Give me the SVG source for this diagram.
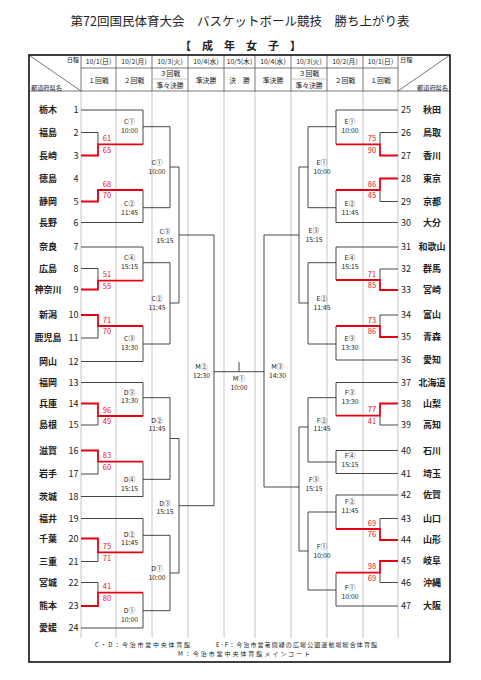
<svg xmlns="http://www.w3.org/2000/svg" width="481" height="680" viewBox="0 0 481 680">
<style>
text{font-family:"Noto Sans CJK JP","Liberation Sans",sans-serif;fill:#222}
.t{font-size:12.5px;text-anchor:middle}
.st{font-size:11px;font-weight:bold;text-anchor:middle}
.h{font-size:6.8px;text-anchor:middle}
.hs{font-size:6.2px}
.nm{font-size:9px;text-anchor:middle;font-weight:bold}
.nl{font-size:9px;text-anchor:end}
.nr{font-size:9px;text-anchor:start}
.m{font-size:6.8px;text-anchor:middle}
.s{font-size:7.5px;text-anchor:middle;fill:#e8141e}
.f{font-size:6px}
.g{stroke:#b8b8b8;stroke-width:0.8;fill:none}
.hd{stroke:#555;stroke-width:0.8;fill:none}
.b{stroke:#333;stroke-width:0.9;fill:none}
.r{stroke:#e60012;stroke-width:1.8;fill:none}
</style>
<rect x="0" y="0" width="481" height="680" fill="#fff"/>
<g id="title">
<text class="t" x="240" y="26">第72回国民体育大会　バスケットボール競技　勝ち上がり表</text>
<text class="st" x="240.5" y="50">【　成　年　女　子　】</text>
</g>
<g id="grid">
<path class="g" d="M81,91V638M116,91V638M152,91V638M188,91V638M224,91V638M255,91V638M291,91V638M327,91V638M363,91V638M398,91V638"/>
<path class="hd" d="M81,55V91M116,55V91M152,55V91M188,55V91M224,55V91M255,55V91M291,55V91M327,55V91M363,55V91M398,55V91M81,68H398M29,91H450M29,55L81,91M398,91L450,55"/>
<path class="g" d="M152,79H188M291,79H327"/>
<rect x="29" y="55" width="421" height="607" fill="none" stroke="#111" stroke-width="1.6"/>
</g>
<g id="header">
<text class="hs" x="79" y="62" text-anchor="end">日程</text>
<text class="hs" x="31" y="89.5">都道府県名</text>
<text class="hs" x="400" y="62">日程</text>
<text class="hs" x="448" y="89.5" text-anchor="end">都道府県名</text>
<text class="h" x="98.5" y="64">10/1(日)</text>
<text class="h" x="134" y="64">10/2(月)</text>
<text class="h" x="170" y="64">10/3(火)</text>
<text class="h" x="206" y="64">10/4(水)</text>
<text class="h" x="239.5" y="64">10/5(木)</text>
<text class="h" x="273" y="64">10/4(水)</text>
<text class="h" x="309" y="64">10/3(火)</text>
<text class="h" x="345" y="64">10/2(月)</text>
<text class="h" x="380.5" y="64">10/1(日)</text>
<text class="h" x="98.5" y="82.5">１回戦</text>
<text class="h" x="134" y="82.5">２回戦</text>
<text class="h" x="170" y="76">３回戦</text>
<text class="h" x="170" y="87.5">準々決勝</text>
<text class="h" x="206" y="82.5">準決勝</text>
<text class="h" x="239.5" y="82.5">決　勝</text>
<text class="h" x="273" y="82.5">準決勝</text>
<text class="h" x="309" y="76">３回戦</text>
<text class="h" x="309" y="87.5">準々決勝</text>
<text class="h" x="345" y="82.5">２回戦</text>
<text class="h" x="380.5" y="82.5">１回戦</text>
</g>
<g id="connectors">
<path class="b" d="M81,110H143M81,222.5H143M81,247H143M81,361.5H143M81,382.5H143M81,496.5H143M81,518.5H143M81,628H143"/>
<path class="b" d="M81,132.5H98V144.3M81,201.5H98V190M81,268.5H98V280.7M81,338H98V326M81,425H98V416M81,474H98V461.7M81,561.5H98V552.3M81,582.5H98V592.7"/>
<path class="b" d="M143,110V144.3M143,190V222.5M143,247V280.7M143,326V361.5M143,382.5V416M143,461.7V496.5M143,518.5V552.3M143,592.7V628"/>
<path class="b" d="M143,126.7H170M143,207.7H170M143,262.7H170M143,344H170M143,397.7H170M143,479.3H170M143,535.3H170M143,610.7H170"/>
<path class="b" d="M170,126.7V207.7M170,262.7V344M170,397.7V479.3M170,535.3V610.7M170,167H179M170,303H179M170,438.5H179M170,573H179"/>
<path class="b" d="M179,167V303M179,438.5V573M179,235H214M179,505.7H214M214,235V505.7M214,371.7H264M239,362V371.7"/>
<path class="b" d="M264,235V487M299,235H264M299,487H264M299,167V303M299,427V551M308,167H299M308,303H299M308,427H299M308,551H299"/>
<path class="b" d="M308,126.7V207.7M308,262.7V344M308,397.7V462M308,512V590M336,126.7H308M336,207.7H308M336,262.7H308M336,344H308M336,397.7H308M336,462H308M336,512H308M336,590H308"/>
<path class="b" d="M336,110V144.3M336,190V222.5M336,247V280M336,326V360M336,382.5V415.7M336,450.5V473.5M336,495V529M336,572.7V606"/>
<path class="b" d="M398,110H336M398,222.5H336M398,247H336M398,360H336M398,382.5H336M398,450.5H336M398,473.5H336M398,495H336M398,606H336"/>
<path class="b" d="M398,132.5H380V144.3M398,201.5H380V190M398,269H380V280M398,315H380V326M398,425H380V415.7M398,518.5H380V529M398,582.5H380V572.7"/>
<path class="r" d="M81,155.5H98V144.3H143M81,201.5H98V190H143M81,289.5H98V280.7H143M81,315H98V326H143M81,403.5H98V416H143M81,450.5H98V461.7H143M81,538.5H98V552.3H143M81,606H98V592.7H143"/>
<path class="r" d="M398,155.5H380V144.3H336M398,178.5H380V190H336M398,290H380V280H336M398,337H380V326H336M398,403.5H380V415.7H336M398,540H380V529H336M398,561H380V572.7H336"/>
</g>
<g id="scores">
<text class="s" x="107" y="141">61</text><text class="s" x="107" y="152.5">65</text>
<text class="s" x="107" y="186.7">68</text><text class="s" x="107" y="198.2">70</text>
<text class="s" x="107" y="277.4">51</text><text class="s" x="107" y="288.9">55</text>
<text class="s" x="107" y="322.7">71</text><text class="s" x="107" y="334.2">70</text>
<text class="s" x="107" y="412.7">96</text><text class="s" x="107" y="424.2">49</text>
<text class="s" x="107" y="458.4">83</text><text class="s" x="107" y="469.9">60</text>
<text class="s" x="107" y="549">75</text><text class="s" x="107" y="560.5">71</text>
<text class="s" x="107" y="589.4">41</text><text class="s" x="107" y="600.9">80</text>
<text class="s" x="372" y="141">75</text><text class="s" x="372" y="152.5">90</text>
<text class="s" x="372" y="186.7">86</text><text class="s" x="372" y="198.2">45</text>
<text class="s" x="372" y="276.7">71</text><text class="s" x="372" y="288.2">85</text>
<text class="s" x="372" y="322.7">73</text><text class="s" x="372" y="334.2">86</text>
<text class="s" x="372" y="412.4">77</text><text class="s" x="372" y="423.9">41</text>
<text class="s" x="372" y="525.7">69</text><text class="s" x="372" y="537.2">76</text>
<text class="s" x="372" y="569.4">98</text><text class="s" x="372" y="580.9">69</text>
</g>
<g id="matches">
<g id="mC1a"><text class="m" x="129.5" y="124.1">C①</text><text class="m" x="129.5" y="132.7">10:00</text></g>
<g id="mC2a"><text class="m" x="129.5" y="205.9">C②</text><text class="m" x="129.5" y="214.5">11:45</text></g>
<g id="mC4"><text class="m" x="129.5" y="260.1">C④</text><text class="m" x="129.5" y="268.7">15:15</text></g>
<g id="mC3a"><text class="m" x="129.5" y="341.4">C③</text><text class="m" x="129.5" y="350">13:30</text></g>
<g id="mD3a"><text class="m" x="129.5" y="394.8">D③</text><text class="m" x="129.5" y="403.4">13:30</text></g>
<g id="mD4"><text class="m" x="129.5" y="482.3">D④</text><text class="m" x="129.5" y="490.9">15:15</text></g>
<g id="mD2a"><text class="m" x="129.5" y="536.8">D②</text><text class="m" x="129.5" y="545.4">11:45</text></g>
<g id="mD1a"><text class="m" x="129.5" y="613.3">D①</text><text class="m" x="129.5" y="621.9">10:00</text></g>
<g id="mC1b"><text class="m" x="157" y="165.3">C①</text><text class="m" x="157" y="173.9">10:00</text></g>
<g id="mC2b"><text class="m" x="157" y="301.3">C②</text><text class="m" x="157" y="309.9">11:45</text></g>
<g id="mD2b"><text class="m" x="157" y="422.8">D②</text><text class="m" x="157" y="431.4">11:45</text></g>
<g id="mD1b"><text class="m" x="157" y="571.4">D①</text><text class="m" x="157" y="580">10:00</text></g>
<g id="mC3b"><text class="m" x="165" y="234.1">C③</text><text class="m" x="165" y="242.7">15:15</text></g>
<g id="mD3b"><text class="m" x="165" y="505.6">D③</text><text class="m" x="165" y="514.2">15:15</text></g>
<g id="mM2"><text class="m" x="201.5" y="368.9">M②</text><text class="m" x="201.5" y="377.5">12:30</text></g>
<g id="mM1"><text class="m" x="239" y="381.3">M①</text><text class="m" x="239" y="389.9">10:00</text></g>
<g id="mM3"><text class="m" x="277.5" y="368.9">M③</text><text class="m" x="277.5" y="377.5">14:30</text></g>
<g id="mE3b"><text class="m" x="314" y="233.1">E③</text><text class="m" x="314" y="241.7">15:15</text></g>
<g id="mF3b"><text class="m" x="314" y="482.1">F③</text><text class="m" x="314" y="490.7">15:15</text></g>
<g id="mE1b"><text class="m" x="322" y="165.4">E①</text><text class="m" x="322" y="174">10:00</text></g>
<g id="mE2b"><text class="m" x="322" y="301.3">E②</text><text class="m" x="322" y="309.9">11:45</text></g>
<g id="mF2b"><text class="m" x="322" y="422.8">F②</text><text class="m" x="322" y="431.4">11:45</text></g>
<g id="mF1b"><text class="m" x="322" y="549.1">F①</text><text class="m" x="322" y="557.7">10:00</text></g>
<g id="mE1a"><text class="m" x="350" y="124.1">E①</text><text class="m" x="350" y="132.7">10:00</text></g>
<g id="mE2a"><text class="m" x="350" y="205.9">E②</text><text class="m" x="350" y="214.5">11:45</text></g>
<g id="mE4"><text class="m" x="350" y="260.1">E④</text><text class="m" x="350" y="268.7">15:15</text></g>
<g id="mE3a"><text class="m" x="350" y="341.4">E③</text><text class="m" x="350" y="350">13:30</text></g>
<g id="mF3a"><text class="m" x="350" y="395.1">F③</text><text class="m" x="350" y="403.7">13:30</text></g>
<g id="mF4"><text class="m" x="350" y="458.4">F④</text><text class="m" x="350" y="467">15:15</text></g>
<g id="mF2a"><text class="m" x="350" y="504.4">F②</text><text class="m" x="350" y="513">11:45</text></g>
<g id="mF1a"><text class="m" x="350" y="590.3">F①</text><text class="m" x="350" y="598.9">10:00</text></g>
</g>
<g id="teams">
<g id="t1"><text class="nm" x="48" y="113.3">栃木</text><text class="nl" x="78.5" y="113.3">1</text></g>
<g id="t2"><text class="nm" x="48" y="135.8">福島</text><text class="nl" x="78.5" y="135.8">2</text></g>
<g id="t3"><text class="nm" x="48" y="158.8">長崎</text><text class="nl" x="78.5" y="158.8">3</text></g>
<g id="t4"><text class="nm" x="48" y="181.8">徳島</text><text class="nl" x="78.5" y="181.8">4</text></g>
<g id="t5"><text class="nm" x="48" y="204.8">静岡</text><text class="nl" x="78.5" y="204.8">5</text></g>
<g id="t6"><text class="nm" x="48" y="225.8">長野</text><text class="nl" x="78.5" y="225.8">6</text></g>
<g id="t7"><text class="nm" x="48" y="250.3">奈良</text><text class="nl" x="78.5" y="250.3">7</text></g>
<g id="t8"><text class="nm" x="48" y="271.8">広島</text><text class="nl" x="78.5" y="271.8">8</text></g>
<g id="t9"><text class="nm" x="48" y="292.8">神奈川</text><text class="nl" x="78.5" y="292.8">9</text></g>
<g id="t10"><text class="nm" x="48" y="318.3">新潟</text><text class="nl" x="78.5" y="318.3">10</text></g>
<g id="t11"><text class="nm" x="48" y="341.3">鹿児島</text><text class="nl" x="78.5" y="341.3">11</text></g>
<g id="t12"><text class="nm" x="48" y="364.8">岡山</text><text class="nl" x="78.5" y="364.8">12</text></g>
<g id="t13"><text class="nm" x="48" y="385.8">福岡</text><text class="nl" x="78.5" y="385.8">13</text></g>
<g id="t14"><text class="nm" x="48" y="406.8">兵庫</text><text class="nl" x="78.5" y="406.8">14</text></g>
<g id="t15"><text class="nm" x="48" y="428.3">島根</text><text class="nl" x="78.5" y="428.3">15</text></g>
<g id="t16"><text class="nm" x="48" y="453.8">滋賀</text><text class="nl" x="78.5" y="453.8">16</text></g>
<g id="t17"><text class="nm" x="48" y="477.3">岩手</text><text class="nl" x="78.5" y="477.3">17</text></g>
<g id="t18"><text class="nm" x="48" y="499.8">茨城</text><text class="nl" x="78.5" y="499.8">18</text></g>
<g id="t19"><text class="nm" x="48" y="521.8">福井</text><text class="nl" x="78.5" y="521.8">19</text></g>
<g id="t20"><text class="nm" x="48" y="541.8">千葉</text><text class="nl" x="78.5" y="541.8">20</text></g>
<g id="t21"><text class="nm" x="48" y="564.8">三重</text><text class="nl" x="78.5" y="564.8">21</text></g>
<g id="t22"><text class="nm" x="48" y="585.8">宮城</text><text class="nl" x="78.5" y="585.8">22</text></g>
<g id="t23"><text class="nm" x="48" y="609.3">熊本</text><text class="nl" x="78.5" y="609.3">23</text></g>
<g id="t24"><text class="nm" x="48" y="631.3">愛媛</text><text class="nl" x="78.5" y="631.3">24</text></g>
<g id="t25"><text class="nr" x="401" y="113.3">25</text><text class="nm" x="432" y="113.3">秋田</text></g>
<g id="t26"><text class="nr" x="401" y="135.8">26</text><text class="nm" x="432" y="135.8">鳥取</text></g>
<g id="t27"><text class="nr" x="401" y="158.8">27</text><text class="nm" x="432" y="158.8">香川</text></g>
<g id="t28"><text class="nr" x="401" y="181.8">28</text><text class="nm" x="432" y="181.8">東京</text></g>
<g id="t29"><text class="nr" x="401" y="204.8">29</text><text class="nm" x="432" y="204.8">京都</text></g>
<g id="t30"><text class="nr" x="401" y="225.8">30</text><text class="nm" x="432" y="225.8">大分</text></g>
<g id="t31"><text class="nr" x="401" y="250.3">31</text><text class="nm" x="432" y="250.3">和歌山</text></g>
<g id="t32"><text class="nr" x="401" y="272.3">32</text><text class="nm" x="432" y="272.3">群馬</text></g>
<g id="t33"><text class="nr" x="401" y="293.3">33</text><text class="nm" x="432" y="293.3">宮崎</text></g>
<g id="t34"><text class="nr" x="401" y="318.3">34</text><text class="nm" x="432" y="318.3">富山</text></g>
<g id="t35"><text class="nr" x="401" y="340.3">35</text><text class="nm" x="432" y="340.3">青森</text></g>
<g id="t36"><text class="nr" x="401" y="363.3">36</text><text class="nm" x="432" y="363.3">愛知</text></g>
<g id="t37"><text class="nr" x="401" y="385.8">37</text><text class="nm" x="432" y="385.8">北海道</text></g>
<g id="t38"><text class="nr" x="401" y="406.8">38</text><text class="nm" x="432" y="406.8">山梨</text></g>
<g id="t39"><text class="nr" x="401" y="428.3">39</text><text class="nm" x="432" y="428.3">高知</text></g>
<g id="t40"><text class="nr" x="401" y="453.8">40</text><text class="nm" x="432" y="453.8">石川</text></g>
<g id="t41"><text class="nr" x="401" y="476.8">41</text><text class="nm" x="432" y="476.8">埼玉</text></g>
<g id="t42"><text class="nr" x="401" y="498.3">42</text><text class="nm" x="432" y="498.3">佐賀</text></g>
<g id="t43"><text class="nr" x="401" y="521.8">43</text><text class="nm" x="432" y="521.8">山口</text></g>
<g id="t44"><text class="nr" x="401" y="543.3">44</text><text class="nm" x="432" y="543.3">山形</text></g>
<g id="t45"><text class="nr" x="401" y="564.3">45</text><text class="nm" x="432" y="564.3">岐阜</text></g>
<g id="t46"><text class="nr" x="401" y="585.8">46</text><text class="nm" x="432" y="585.8">沖縄</text></g>
<g id="t47"><text class="nr" x="401" y="609.3">47</text><text class="nm" x="432" y="609.3">大阪</text></g>
</g>
<g id="footer">
<text class="f" x="95" y="647" textLength="95" lengthAdjust="spacing">C・D：今治市営中央体育館</text>
<text class="f" x="216" y="647" textLength="161" lengthAdjust="spacing">E･F：今治市営菊間緑の広場公園運動場総合体育館</text>
<text class="f" x="178" y="655.5" textLength="132" lengthAdjust="spacing">M：今治市営中央体育館メインコート</text>
</g>
</svg>
